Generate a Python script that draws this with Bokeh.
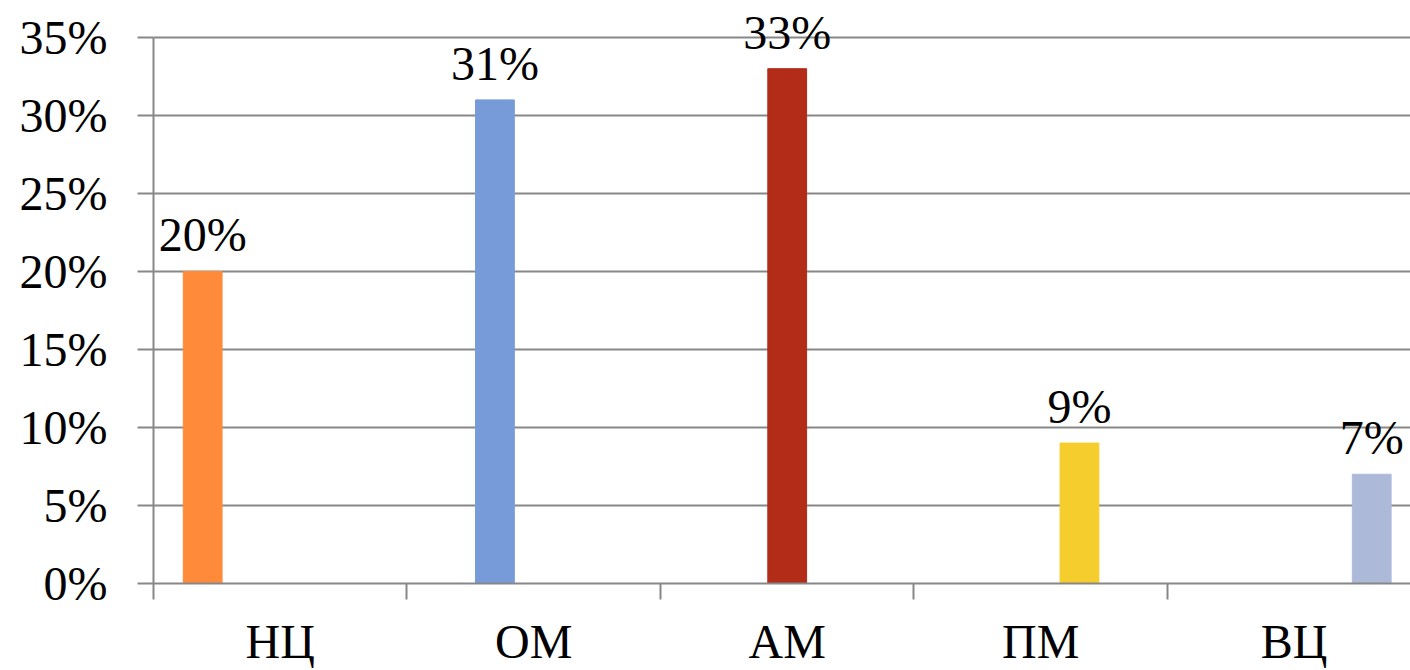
from bokeh.plotting import figure
from bokeh.models import (Range1d, FixedTicker, NumeralTickFormatter, ColumnDataSource,
                          LabelSet)
from bokeh.embed import file_html
from bokeh.resources import INLINE

# Data
categories = ["НЦ", "ОМ", "АМ", "ПМ", "ВЦ"]
shares = [0.20, 0.31, 0.33, 0.09, 0.07]
colors = ["#FF8A3A", "#779BD9", "#B22C18", "#F5CD2C", "#ADB9D8"]
y_ticks = [0.0, 0.05, 0.10, 0.15, 0.20, 0.25, 0.30, 0.35]

FONT = "Liberation Serif"
FSIZE = "48px"
GRID = "#878787"
n = len(categories)
slot = 0.153  # width of one series slot inside a category group

idx = list(range(n))
# each category carries one series; series j sits in slot j of the group
xs = [i + 0.5 + (i - (n - 1) / 2) * slot for i in idx]
labels = [f"{round(v * 100)}%" for v in shares]
src = ColumnDataSource(dict(x=xs, top=shares, color=colors, label=labels))

# headroom above the 35% line keeps the top value label visible
p = figure(width=1410, height=670, output_backend="svg", toolbar_location=None,
           x_range=Range1d(0, 4.959), y_range=Range1d(0, 0.3737),
           min_border_left=153, min_border_right=0, min_border_top=0,
           min_border_bottom=87)
p.outline_line_color = None
p.background_fill_color = "white"
p.border_fill_color = "white"

p.vbar(x="x", top="top", bottom=0, width=slot, color="color", source=src)

p.add_layout(LabelSet(x="x", y="top", text="label", source=src,
                      text_align="center", text_baseline="alphabetic",
                      y_offset=20, text_font=FONT, text_font_size=FSIZE,
                      text_color="black"))

# y axis
ya = p.yaxis[0]
ya.bounds = (0, 0.35)
ya.ticker = FixedTicker(ticks=y_ticks)
ya.formatter = NumeralTickFormatter(format="0%")
ya.axis_line_color = GRID
ya.axis_line_width = 2
ya.major_tick_line_color = GRID
ya.major_tick_line_width = 2
ya.major_tick_out = 16
ya.major_tick_in = 0
ya.minor_tick_line_color = None
ya.major_label_standoff = 30
ya.major_label_text_font = FONT
ya.major_label_text_font_size = FSIZE
ya.major_label_text_color = "black"

# x axis: labels at group centres, tick marks at group boundaries
xa = p.xaxis[0]
xa.ticker = FixedTicker(ticks=[i + 0.5 for i in idx], minor_ticks=list(range(n)))
xa.major_label_overrides = {i + 0.5: c for i, c in zip(idx, categories)}
xa.axis_line_color = GRID
xa.axis_line_width = 2
xa.major_tick_line_color = None
xa.major_tick_out = 0
xa.major_tick_in = 0
xa.minor_tick_line_color = GRID
xa.minor_tick_line_width = 2
xa.minor_tick_out = 16
xa.minor_tick_in = 0
xa.major_label_standoff = 15
xa.major_label_text_font = FONT
xa.major_label_text_font_size = FSIZE
xa.major_label_text_color = "black"

p.xgrid.grid_line_color = None
p.ygrid.ticker = FixedTicker(ticks=y_ticks)
p.ygrid.grid_line_color = GRID
p.ygrid.grid_line_width = 2

open("out.html", "w").write(file_html(p, INLINE))
